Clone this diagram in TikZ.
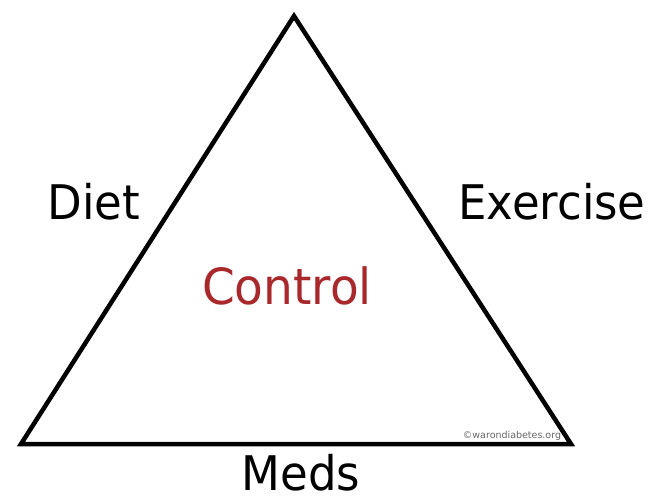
\documentclass[tikz,border=0pt]{standalone}
\usepackage{fontspec}
\setmainfont{DejaVu Sans}
\definecolor{ctrlred}{HTML}{A8282C}
\begin{document}
\begin{tikzpicture}[x=1pt,y=-1pt,
  lbl/.style={anchor=base,inner sep=0pt,text depth=0pt,font=\fontsize{45}{45}\selectfont},
  tri/.style={draw=black,line width=4.5pt,line join=miter}]
\useasboundingbox[fill=white] (0,0) rectangle (655,498);
\coordinate (A) at (294,16);
\coordinate (B) at (21,444);
\coordinate (C) at (571,444);
\draw[tri] (A) -- (B) -- (C) -- cycle;
\node[lbl] (diet) at (94,219) {\scalebox{1}[1.06]{Diet}};
\node[lbl] (ex) at (552,219) {\scalebox{1}[1.06]{Exercise}};
\node[lbl,text=ctrlred,font=\fontsize{47}{47}\selectfont] (ctrl) at (287,304) {\scalebox{1}[1.06]{Control}};
\node[lbl] (meds) at (301,490) {\scalebox{1}[1.06]{Meds}};
\node[anchor=base,inner sep=0pt,font=\fontsize{9.5}{9.5}\selectfont,text=black!60] (wm) at (512,438) {©warondiabetes.org};
\end{tikzpicture}
\end{document}
